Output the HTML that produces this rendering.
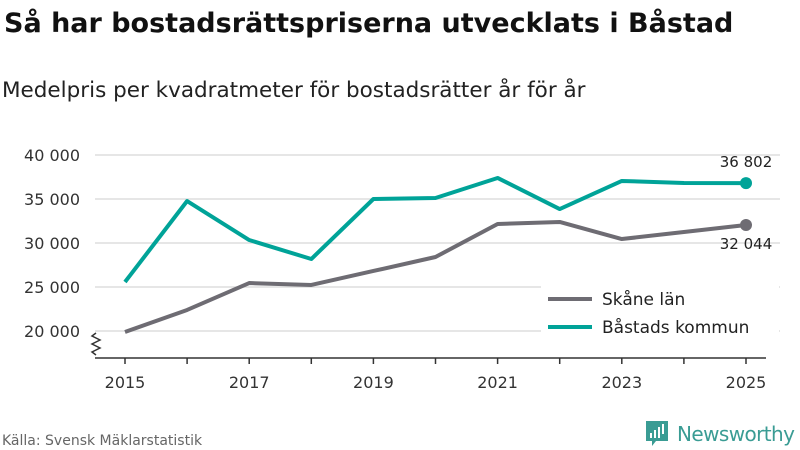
<!DOCTYPE html>
<html><head><meta charset="utf-8"><style>
body{margin:0;background:#fff;font-family:"DejaVu Sans","Liberation Sans",sans-serif;}
svg{display:block}
</style></head><body>
<svg width="800" height="450" xmlns="http://www.w3.org/2000/svg">
<text x="4" y="32" font-size="27" font-weight="bold" fill="#111">Så har bostadsrättspriserna utvecklats i Båstad</text>
<text x="2" y="97" font-size="21.5" fill="#222">Medelpris per kvadratmeter för bostadsrätter år för år</text>
<g id="grid"></g><g id="axis"></g><g id="series"></g>
<g>
<rect x="541" y="281" width="238" height="64" fill="#fff"/>
<line x1="548" y1="299" x2="592" y2="299" stroke="#6e6c73" stroke-width="4"/>
<text x="602" y="305" font-size="17" fill="#222">Skåne län</text>
<line x1="548" y1="327" x2="592" y2="327" stroke="#00a398" stroke-width="4"/>
<text x="602" y="333" font-size="17" fill="#222">Båstads kommun</text>
</g>
<text x="2" y="445" font-size="14" fill="#666">Källa: Svensk Mäklarstatistik</text>
<g>
<path d="M646 421h22v20h-12l-4 5v-5h-6z" fill="#3a9c94"/>
<rect x="650" y="433" width="2" height="5" fill="#fff"/><rect x="654" y="430" width="2" height="8" fill="#fff"/><rect x="658" y="427" width="2" height="11" fill="#fff"/><rect x="662" y="424" width="2" height="10" fill="#fff"/>
<text x="677" y="441" font-size="20" fill="#3a9c94" textLength="118">Newsworthy</text>
</g>
</svg>
<script>
const years=[2015,2016,2017,2018,2019,2020,2021,2022,2023,2024,2025];
const skane=[19890,22390,25450,25230,26820,28410,32160,32390,30450,31250,32044];
const bastad=[25570,34770,30340,28180,35000,35110,37390,33860,37050,36820,36802];
const yTicks=[20000,25000,30000,35000,40000];
const yTickLabels=["20 000","25 000","30 000","35 000","40 000"];
const xTickYears=[2015,2017,2019,2021,2023,2025];
const NS="http://www.w3.org/2000/svg";
const x=v=>125+(v-2015)*62.1;
const y=v=>331-(v-20000)*176/20000;
function mk(t,a,p){const e=document.createElementNS(NS,t);for(const k in a)e.setAttribute(k,a[k]);p.appendChild(e);return e;}
const grid=document.getElementById('grid'),axis=document.getElementById('axis'),ser=document.getElementById('series');
yTicks.forEach((t,i)=>{
 const l=mk('line',{x1:95,x2:780,y1:y(t),y2:y(t),stroke:'#ddd','stroke-width':1.5},grid);
 
 
 const tx=mk('text',{x:80,y:y(t)+6,'font-size':16,fill:'#333','text-anchor':'end'},grid);tx.textContent=yTickLabels[i];
 
 
});
const base=mk('line',{x1:95,x2:766,y1:358,y2:358,stroke:'#333','stroke-width':1.5},axis);


const zz=mk('path',{d:'M96 333 l-4 3 l8 4 l-8 4 l8 4 l-8 4 l4 3',fill:'none',stroke:'#333','stroke-width':1.5},axis);


years.forEach(yr=>{
 const t=mk('line',{x1:x(yr),x2:x(yr),y1:358,y2:364,stroke:'#333','stroke-width':1.5},axis);
 
 
});
xTickYears.forEach(yr=>{
 const t=mk('text',{x:x(yr),y:388,'font-size':16,fill:'#333','text-anchor':'middle'},axis);t.textContent=yr;
 
 
});
function line(vals,col,name){
 const p=mk('polyline',{points:vals.map((v,i)=>x(years[i])+','+y(v)).join(' '),fill:'none',stroke:col,'stroke-width':4,'stroke-linejoin':'round'},ser);
 
 
 const n=vals.length-1;
 const c=mk('circle',{cx:x(years[n]),cy:y(vals[n]),r:6,fill:col},ser);
 
 
}
line(skane,'#6e6c73','skane');
line(bastad,'#00a398','bastad');
const fmt=v=>String(v).replace(/\B(?=(\d{3})+$)/,' ');
const lb=mk('text',{x:x(2025),y:y(bastad[10])-16,'font-size':15,fill:'#222','text-anchor':'middle'},ser);lb.textContent=fmt(bastad[10]);


const ls=mk('text',{x:x(2025),y:y(skane[10])+24,'font-size':15,fill:'#222','text-anchor':'middle'},ser);ls.textContent=fmt(skane[10]);


</script>
</body></html>
